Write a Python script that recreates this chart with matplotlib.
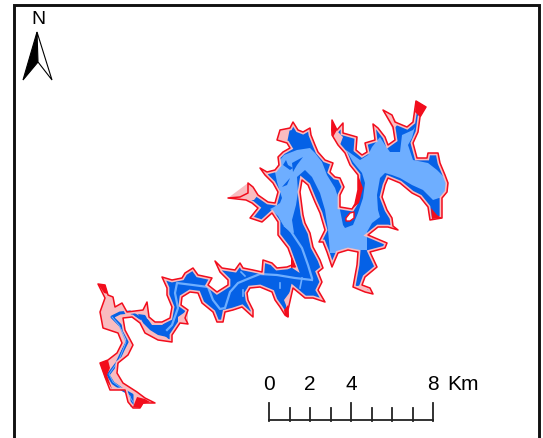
import matplotlib
matplotlib.use('Agg')
import matplotlib.pyplot as plt
from matplotlib.patches import Polygon
import numpy as np

plt.rcParams['font.family'] = ['Liberation Sans', 'DejaVu Sans']

RED = '#f20d1c'
PINK = '#f9bcc0'
BLUE = '#0561e6'
LIGHT = '#6eaeff'

# everything in image pixels
# shoreline of the wide part of the lake, clockwise from the west end
shore_main = [(162,277),(172,280),(182,278),(185,273),(193,268),(198,275),(212,278),(208,285),(217,292),(228,285),
              (228,280),(220,272),(215,261),(222,268),(235,270),(240,263),(243,268),(253,270),(262,272),(263,260),
              (272,263),(277,268),(287,267),(292,265),(295,267),(288,248),(278,235),(278,222),(272,213),(262,222),
              (250,218),(258,208),(252,203),(246,200),(228,198),(240,197),(248,193),(248,183),(253,187),(258,195),
              (268,202),(275,203),(278,192),(273,183),(265,175),(260,168),(267,172),(275,170),(279,165),(278,157),
              (283,152),(290,148),(287,143),(277,140),(280,130),(290,128),(293,122),(298,130),(303,132),(310,128),
              (311,135),(315,145),(318,152),(325,160),(333,163),(330,172),(335,177),(340,178),(344,187),(340,195),
              (340,207),(352,209),(355,204),(358,190),(358,175),(350,165),(345,153),(338,145),(332,135),(332,120),
              (337,130),(343,123),(343,133),(357,137),(356,150),(362,155),(367,152),(365,143),(375,140),(373,124),
              (378,128),(385,137),(388,145),(395,140),(393,127),(383,110),(392,115),(395,122),(407,127),(413,122),
              (416,101),(426,107),(420,117),(418,132),(413,143),(417,158),(427,158),(428,153),(438,153),(440,163),
              (445,175),(448,183),(447,192),(442,198),(442,218),(430,220),(428,207),(420,197),(412,193),(400,183),
              (388,178),(385,185),(382,197),(387,210),(392,218),(393,226),(398,230),(388,227),(378,227),(368,235),(387,243),
              (385,248),(370,252),(377,267),(365,277),(362,285),(370,288),(373,294),(365,292),(353,287),(357,265),
              (358,252),(348,250),(338,253),(332,267),(327,252),(323,242),(319,242),(325,230),(320,213),(315,202),
              (308,185),(302,180),(300,192),(303,215),(305,223),(310,233),(313,247),(320,260),(323,268),(318,272),
              (322,282),(318,290),(325,302),(313,298),(305,298),(293,288),(288,310),(288,317),(285,315),(280,307),
              (275,300),(272,292),(260,287),(250,288),(247,293),(248,300),(253,310),(253,317),(242,307),(233,310),
              (225,312),(223,322),(217,322),(213,312),(202,303),(198,293),(190,292),(182,297),(181,305),(188,310),
              (185,318),(188,324),(180,323),(172,335),(172,342)]

# narrow south-west reach, carrying on from the end of shore_main
shore_tail = [(158,340),(145,333),(140,323),(132,317),(123,318),(125,330),(133,345),(128,355),(118,363),(117,373),
              (123,383),(137,392),(145,398),(155,403),(143,403),(140,408),(133,408),(128,402),(125,390),(110,390),
              (105,377),(100,363),(108,360),(117,353),(122,343),(118,333),(103,328),(100,312),(105,298),(98,284),
              (105,285),(108,295),(113,297),(115,307),(122,303),(127,312),(143,310),(147,302),(149,317),(155,322),
              (162,322),(170,318),(172,307),(167,295),(167,288)]

deep_close = [(165,336),(160,330),(162,325),(170,318),(172,307),(167,295),(167,288)]
deep_reach = [(138,314),(145,315),(152,325),(162,325),(168,327),(172,318),(178,317),(167,337),(158,335),(150,330),(143,323)]
deep_channel = [(132,405),(132,395),(123,390),(113,383),(108,375),(117,363),(123,350),(128,340),(122,327),(113,318),
                (112,317),(120,313),(130,312),(140,318)]

light_main = [(346,150),(353,155),(360,160),(368,155),(372,147),(380,137),(385,145),(390,152),(400,152),(402,135),
              (413,130),(415,127),(412,138),(408,145),(413,160),(428,163),(437,170),(445,178),(447,188),(442,197),
              (433,200),(423,190),(412,185),(400,178),(392,175),(385,173),(380,178),(377,195),(378,210),(380,217),
              (372,223),(367,232),(367,250),(358,250),(347,250),(335,253),(330,253),(328,230),(325,210),(320,193),
              (312,177),(305,170),(297,177),(298,192),(296,205),(292,220),(294,233),(290,232),(283,225),(278,216),
              (270,209),(274,207),(280,203),(282,198),(277,182),(275,172),(280,160),(284,155),(297,150),(310,148),
              (315,153),(322,162),(327,175),(335,188),(339,200),(340,210),(343,225),(345,228),(353,225),(358,213),
              (363,198),(365,183),(362,173),(353,162)]

dark_streaks = [[(286,160),(283,165),(290,170),(293,168),(288,165)],
                [(292,163),(303,157),(297,165),(293,172)],
                [(282,187),(290,178),(287,185)]]

light_arm = [(285,226),(290,230),(302,248),(308,265),(312,278)]
light_reach = [(312,280),(295,278),(277,275),(260,274),(250,278),(238,283),(230,292),(225,308),(220,309),(213,300),
               (208,287),(193,285),(177,283),(175,293),(178,308),(172,325),(167,330)]
light_ticks = [[(241,272),(245,276)], [(243,290),(243,296)], [(280,283),(280,288)], [(300,288),(302,278)]]
light_tail = [(133,402),(127,392),(113,382),(109,374),(119,360),(126,342),(119,325),(112,317)]

hole = [(346,218),(350,213),(354,212),(354,218),(350,221),(346,221)]

pink_patches = [[(332,122),(338,132),(343,137),(340,145),(333,138)],
                [(277,140),(280,130),(290,128),(287,143)],
                [(228,198),(248,183),(258,195),(254,200),(246,200)],
                [(178,317),(188,310),(188,324),(178,322)],
                [(383,110),(392,115),(398,124),(393,130)],
                [(353,287),(362,285),(373,294),(365,292)],
                [(284,300),(293,288),(288,310)]]

red_blobs = [[(284,310),(288,305),(289,317),(285,316)],
             [(291,268),(291,255),(296,267)],
             [(352,209),(355,204),(358,190),(358,175),(363,188),(359,203)],
             [(100,363),(108,360),(110,368),(107,375),(112,389),(105,378)],
             [(133,407),(137,397),(145,399),(150,402),(143,404),(140,408)],
             [(98,284),(105,285),(108,294),(104,293)],
             [(332,120),(337,130),(333,137),(331,130)],
             [(416,101),(426,107),(420,117),(415,112)],
             [(432,219),(431,208),(437,215),(442,218)]]

north_left = [(37,32),(38,62),(23,80)]
north_right = [(37,32),(52,80),(38,62)]

scale_km = np.arange(0, 9)
scale_labels = [0, 2, 4, 8]

fig = plt.figure(figsize=(5.43, 4.38), dpi=100)
ax = fig.add_axes([0, 0, 1, 1])
ax.set_xlim(0, 543)
ax.set_ylim(438, 0)
ax.axis('off')

shore = shore_main + shore_tail
lake = Polygon(shore, facecolor=PINK, edgecolor='none', zorder=1)
ax.add_patch(lake)

ax.fill(*zip(*(shore_main + deep_close)), facecolor=BLUE, edgecolor='none', zorder=2)
ax.fill(*zip(*deep_reach), facecolor=BLUE, edgecolor='none', zorder=2)
ax.plot(*zip(*deep_channel), color=BLUE, lw=2.2, zorder=2)
ax.fill(*zip(*light_main), facecolor=LIGHT, edgecolor='none', zorder=3)
for streak in dark_streaks:
    ax.fill(*zip(*streak), facecolor=BLUE, edgecolor='none', zorder=4)
ax.plot(*zip(*light_arm), color=LIGHT, lw=1.6, zorder=4)
ax.plot(*zip(*light_reach), color=LIGHT, lw=1.6, zorder=4)
ax.plot(*zip(*light_tail), color=LIGHT, lw=0.7, zorder=4)
for tick in light_ticks:
    ax.plot(*zip(*tick), color=LIGHT, lw=1.2, zorder=4)

# pink fringe inside the shoreline, then the thin red edge on top
fringe = Polygon(shore, fill=False, edgecolor=PINK, linewidth=3.4, zorder=5)
ax.add_patch(fringe)
fringe.set_clip_path(lake)
for patch in pink_patches:
    ax.fill(*zip(*patch), color=PINK, linewidth=0, zorder=5)
ax.add_patch(Polygon(shore, fill=False, edgecolor=RED, linewidth=1.1, joinstyle='round', zorder=6))
for blob in red_blobs:
    ax.fill(*zip(*blob), color=RED, linewidth=0, zorder=6)
ax.fill(*zip(*hole), facecolor='white', edgecolor=RED, linewidth=1.0, zorder=6)

# map frame, runs off the bottom of the image
ax.plot([14, 14, 539, 539], [445, 5, 5, 445], color='#111111', lw=2.1, solid_joinstyle='miter', zorder=7)

# north arrow
ax.fill(*zip(*north_left), facecolor='black', edgecolor='black', lw=0.8, zorder=7)
ax.fill(*zip(*north_right), facecolor='white', edgecolor='black', lw=0.8, zorder=7)
ax.text(38, 20, 'N', ha='center', va='center', fontsize=14, zorder=7)

# scale bar
x0, per_km = 269, 20.5
ax.plot([x0, x0 + 8 * per_km], [420, 420], color='#222222', lw=1.3, zorder=7)
for km in scale_km:
    top = 403 if km % 4 == 0 else 408
    ax.plot([x0 + km * per_km] * 2, [420.5, top], color='#222222', lw=1.3, zorder=7)
for km in scale_labels:
    ax.text(x0 + km * per_km, 384, str(km), ha='center', va='center', fontsize=15, zorder=7)
ax.text(447, 384, 'Km', ha='left', va='center', fontsize=15, zorder=7)

fig.savefig('out.png', dpi=100)
